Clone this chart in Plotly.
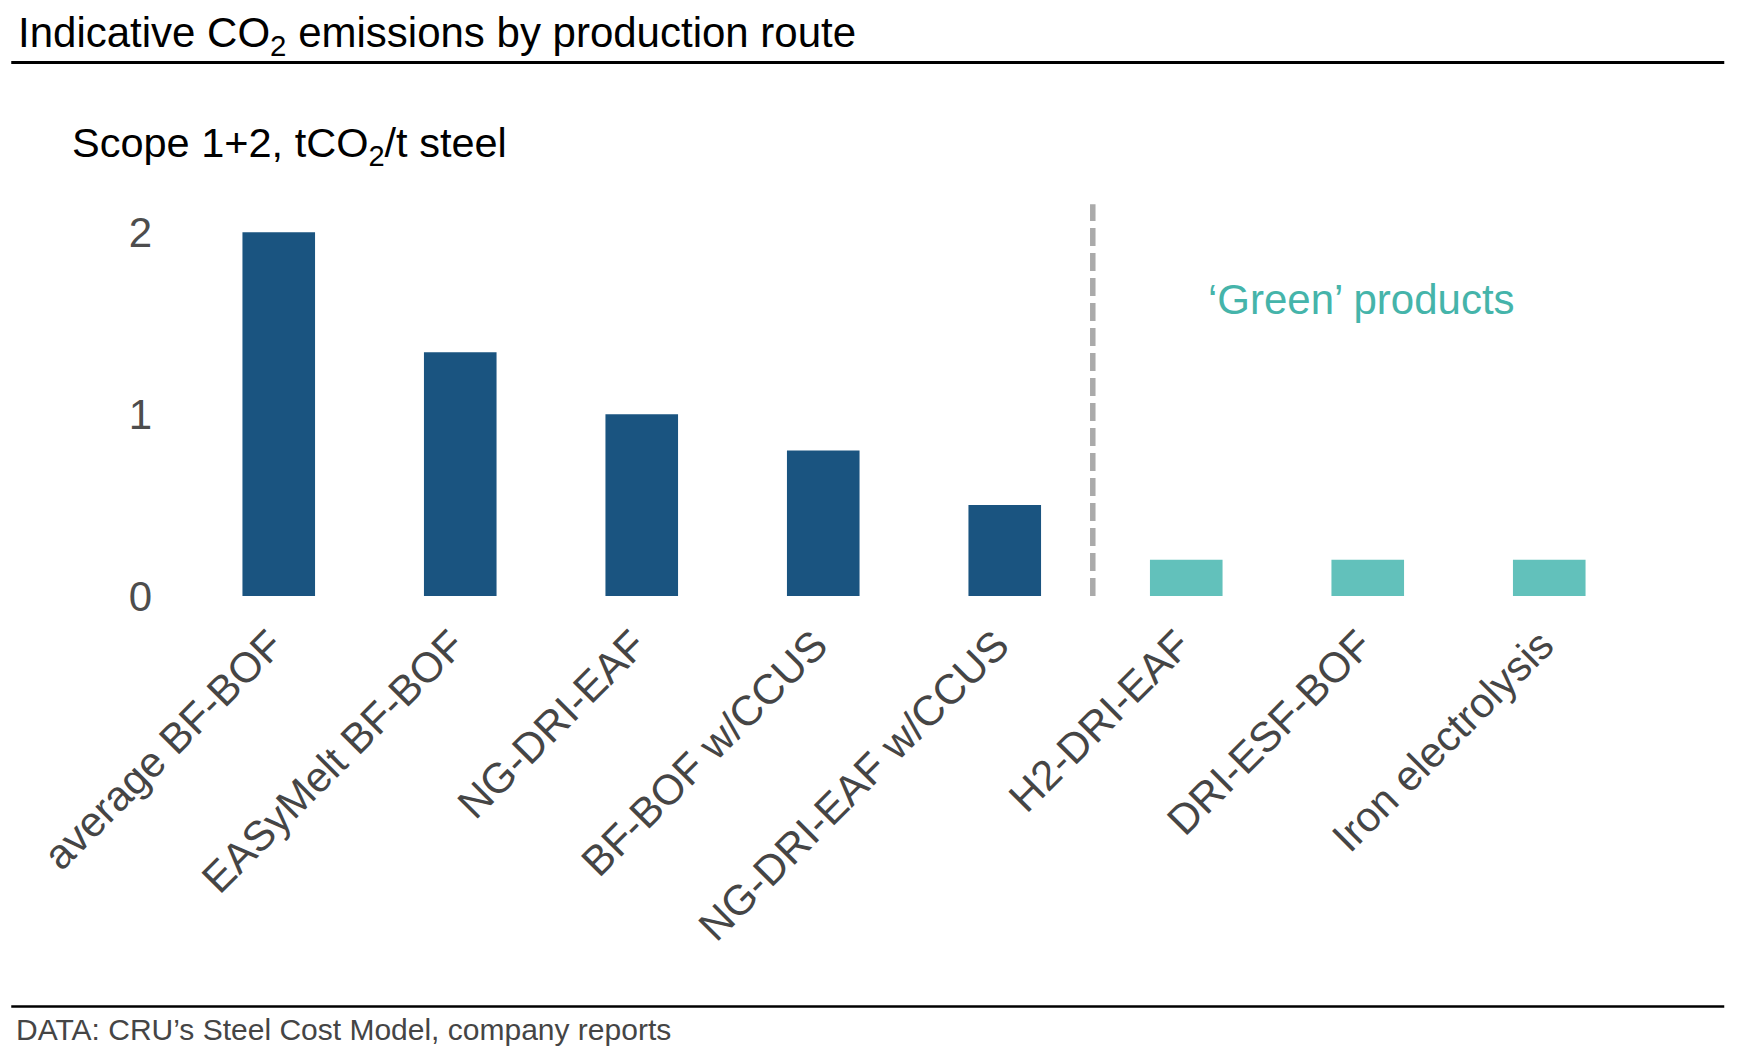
import plotly.graph_objects as go

categories = ["average BF-BOF", "EASyMelt BF-BOF", "NG-DRI-EAF", "BF-BOF w/CCUS",
              "NG-DRI-EAF w/CCUS", "H2-DRI-EAF", "DRI-ESF-BOF", "Iron electrolysis"]
emissions = [2.0, 1.34, 1.0, 0.8, 0.5, 0.2, 0.2, 0.2]
is_green = [False, False, False, False, False, True, True, True]
y_ticks = [0, 1, 2]

# page body adds an 8px offset, so the figure is laid out 8px smaller
W, H = 1743, 1050
ML, MR, MT, MB = 179.75, 111.25, 187.6, 462
pw = W - ML - MR
ph = H - MT - MB

def px_x(x):
    return (x - ML) / pw

def px_y(y):
    return (H - MB - y) / ph

BLUE = "#1a5480"
TEAL = "#62c1bb"
TEAL_TXT = "#45b4aa"
FONT = "Liberation Sans, Arial, sans-serif"

fig = go.Figure()
fig.add_trace(go.Bar(
    x=categories, y=emissions, width=0.4,
    marker=dict(color=[TEAL if g else BLUE for g in is_green], line=dict(width=0)),
    hoverinfo="x+y", showlegend=False,
))

# divider between conventional and green routes
fig.add_shape(type="line", xref="x", yref="y", x0=4.485, x1=4.485, y0=0, y1=2.154,
              line=dict(color="#aaaaaa", width=5.5, dash="18px,7px"))

# header and footer rules
fig.add_shape(type="line", xref="paper", yref="paper", x0=px_x(3), x1=px_x(1716),
              y0=px_y(54), y1=px_y(54), line=dict(color="black", width=3))
fig.add_shape(type="line", xref="paper", yref="paper", x0=px_x(3), x1=px_x(1716),
              y0=px_y(999), y1=px_y(999), line=dict(color="black", width=2.5))

fig.add_annotation(xref="paper", yref="paper", x=px_x(8), y=px_y(27),
                   xanchor="left", yanchor="middle", showarrow=False,
                   text="Indicative CO<sub>2</sub> emissions by production route",
                   font=dict(family=FONT, size=42, color="black"))
fig.add_annotation(xref="paper", yref="paper", x=px_x(62), y=px_y(137),
                   xanchor="left", yanchor="middle", showarrow=False,
                   text="Scope 1+2, tCO<sub>2</sub>/t steel",
                   font=dict(family=FONT, size=41.5, color="black"))
fig.add_annotation(xref="paper", yref="paper", x=px_x(6), y=px_y(1022),
                   xanchor="left", yanchor="middle", showarrow=False,
                   text="DATA: CRU’s Steel Cost Model, company reports",
                   font=dict(family=FONT, size=30, color="#454545"))
fig.add_annotation(xref="x", yref="y", x=5.965, y=1.63,
                   xanchor="center", yanchor="middle", showarrow=False,
                   text="‘Green’ products",
                   font=dict(family=FONT, size=42, color=TEAL_TXT))

fig.update_layout(
    width=W, height=H,
    margin=dict(l=ML, r=MR, t=MT, b=MB, autoexpand=False),
    paper_bgcolor="white", plot_bgcolor="white",
    font=dict(family=FONT, color="#454545"),
    bargap=0.6,
)
fig.update_xaxes(type="category", range=[-0.5, 7.5], tickangle=-45,
                 tickfont=dict(family=FONT, size=42, color="#454545"),
                 showgrid=False, showline=False, zeroline=False, ticks="",
                 ticklabelstandoff=15, ticklabelshift=-8)
fig.update_yaxes(range=[0, 2.2], tickvals=y_ticks, ticktext=[str(t) for t in y_ticks],
                 tickfont=dict(family=FONT, size=42, color="#4d4d4d"),
                 showgrid=False, showline=False, zeroline=False, ticks="",
                 ticklabelstandoff=35)

fig.write_html("out.html")
